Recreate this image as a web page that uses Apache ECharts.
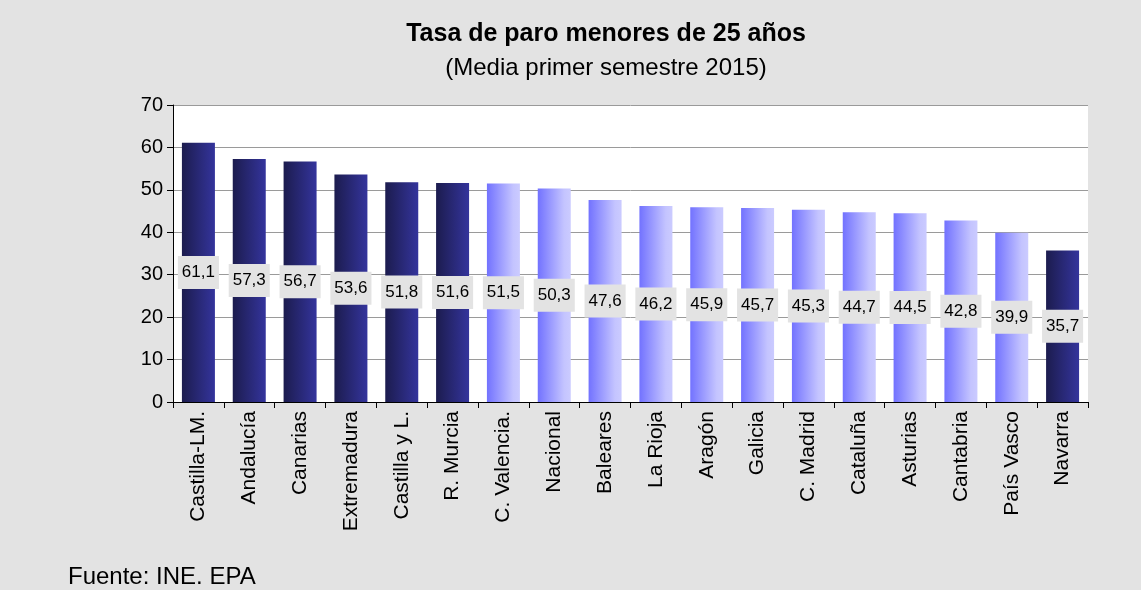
<!DOCTYPE html>
<html>
<head>
<meta charset="utf-8">
<script src="https://cdn.jsdelivr.net/npm/echarts@6/dist/echarts.min.js"></script>
<style>
  html, body { margin: 0; padding: 0; background: #e3e3e3; }
  #myChart { width: 1141px; height: 590px; }
</style>
</head>
<body>
<div id="myChart"></div>
<script>
var regiones = ['Castilla-LM.', 'Andalucía', 'Canarias', 'Extremadura', 'Castilla y L.', 'R. Murcia',
    'C. Valencia.', 'Nacional', 'Baleares', 'La Rioja', 'Aragón', 'Galicia', 'C. Madrid',
    'Cataluña', 'Asturias', 'Cantabria', 'País Vasco', 'Navarra'];
var tasas = [61.1, 57.3, 56.7, 53.6, 51.8, 51.6, 51.5, 50.3, 47.6, 46.2, 45.9, 45.7, 45.3, 44.7, 44.5, 42.8, 39.9, 35.7];
// regiones en color oscuro
var oscuras = ['Castilla-LM.', 'Andalucía', 'Canarias', 'Extremadura', 'Castilla y L.', 'R. Murcia', 'Navarra'];

var myChart = echarts.init(document.getElementById('myChart'));
var font = '"Liberation Sans", Arial, sans-serif';

var colorOscuro = new echarts.graphic.LinearGradient(0, 0, 1, 0, [
    {offset: 0, color: '#1c1c4e'},
    {offset: 1, color: '#34349c'}
]);
var colorClaro = new echarts.graphic.LinearGradient(0, 0, 1, 0, [
    {offset: 0, color: '#7272ff'},
    {offset: 0.8, color: '#c4c4ff'},
    {offset: 1, color: '#cbcbff'}
]);

var datos = [];
for (var i = 0; i < regiones.length; i++) {
    datos.push({
        value: tasas[i],
        itemStyle: {color: oscuras.indexOf(regiones[i]) >= 0 ? colorOscuro : colorClaro}
    });
}

option = {
    backgroundColor: '#e3e3e3',
    animation: false,
    title: [
        {
            text: 'Tasa de paro menores de 25 años',
            left: 601,
            top: 17,
            textAlign: 'center',
            textStyle: {fontFamily: font, fontSize: 25, fontWeight: 'bold', color: '#000'}
        },
        {
            text: '(Media primer semestre 2015)',
            left: 601,
            top: 51,
            textAlign: 'center',
            textStyle: {fontFamily: font, fontSize: 24, fontWeight: 'normal', color: '#000'}
        }
    ],
    graphic: [
        {
            type: 'text',
            left: 68,
            top: 565,
            style: {text: 'Fuente: INE. EPA', fontFamily: font, fontSize: 24, fill: '#000'}
        }
    ],
    grid: {
        left: 173,
        right: 53,
        top: 105,
        bottom: 188,
        show: true,
        backgroundColor: '#ffffff',
        borderWidth: 0
    },
    xAxis: {
        type: 'category',
        data: regiones,
        axisLine: {lineStyle: {color: '#000', width: 1}},
        axisTick: {show: true, length: 6, lineStyle: {color: '#000'}},
        axisLabel: {
            rotate: 90,
            interval: 0,
            margin: 9,
            fontFamily: font,
            fontSize: 21,
            color: '#000'
        }
    },
    yAxis: {
        type: 'value',
        min: 0,
        max: 70,
        interval: 10,
        axisLine: {show: true, lineStyle: {color: '#000', width: 1}},
        axisTick: {show: true, length: 6, lineStyle: {color: '#000'}},
        axisLabel: {fontFamily: font, fontSize: 20, color: '#000', margin: 10},
        splitLine: {lineStyle: {color: '#9a9a9a', width: 1}}
    },
    series: [
        {
            name: 'Tasa de paro',
            type: 'bar',
            data: datos,
            barWidth: 33,
            label: {
                show: true,
                position: 'inside',
                formatter: function (p) {
                    return p.value.toFixed(1).replace('.', ',');
                },
                fontFamily: font,
                fontSize: 17,
                color: '#000',
                backgroundColor: '#e3e3e3',
                padding: [8, 4, 8, 4]
            }
        }
    ]
};

myChart.setOption(option);
</script>
</body>
</html>
